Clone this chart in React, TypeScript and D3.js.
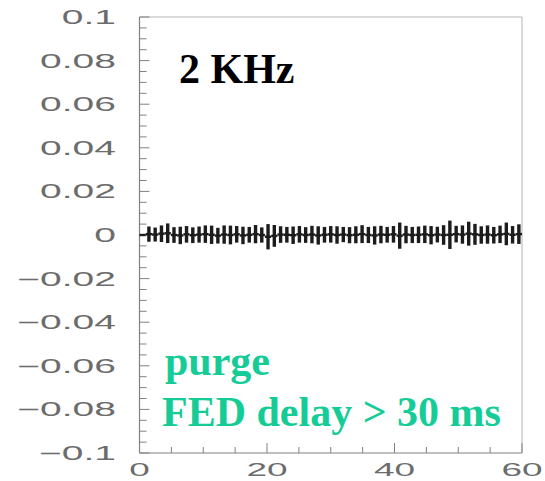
import React from "react";
import * as d3 from "d3";

// Histogram contents: bin 0 is empty, then one value per bin with its error
const binCount = 61;
const xDomain = [0, 60];
const yDomain = [-0.1, 0.1];

const binValues = [
  0, 0.0004, 0.0002, 0.0006, 0.0008, 0.0, -0.0002, 0.0003, -0.0001, 0.0002,
  0.0004, 0.0001, -0.0003, 0.0002, 0.0, 0.0003, -0.0002, 0.0001, 0.0004, 0.0,
  -0.0008, -0.0004, 0.0002, 0.0001, -0.0001, 0.0003, 0.0, 0.0002, -0.0002, 0.0001,
  0.0003, 0.0, 0.0002, -0.0001, 0.0001, 0.0004, 0.0, -0.0002, 0.0002, 0.0001,
  0.0003, -0.0003, 0.0002, 0.0, 0.0001, 0.0003, -0.0001, 0.0002, 0.0, 0.0001,
  0.0004, 0.0002, 0.0006, 0.0003, 0.0, 0.0002, -0.0001, 0.0003, 0.0005, 0.0001,
  0.0004,
];

const binErrors = [
  0, 0.0035, 0.0032, 0.0038, 0.0045, 0.0036, 0.004, 0.0038, 0.0036, 0.0037,
  0.004, 0.0042, 0.0036, 0.0042, 0.0043, 0.0038, 0.004, 0.0036, 0.0042, 0.0035,
  0.0058, 0.005, 0.0038, 0.0036, 0.004, 0.0038, 0.0036, 0.004, 0.0042, 0.0036,
  0.0038, 0.004, 0.0035, 0.0037, 0.0039, 0.0041, 0.0037, 0.0042, 0.004, 0.0036,
  0.0038, 0.006, 0.004, 0.0037, 0.0038, 0.004, 0.0042, 0.0036, 0.0045, 0.0065,
  0.0038, 0.0042, 0.0055, 0.0048, 0.004, 0.0042, 0.0038, 0.004, 0.0052, 0.004,
  0.0045,
];

const yTickValues = [0.1, 0.08, 0.06, 0.04, 0.02, 0, -0.02, -0.04, -0.06, -0.08, -0.1];
const yTickLabels = ["0.1", "0.08", "0.06", "0.04", "0.02", "0", "\u22120.02", "\u22120.04", "\u22120.06", "\u22120.08", "\u22120.1"];
const xTickValues = [0, 20, 40, 60];
const xTickLabels = ["0", "20", "40", "60"];

const rateLabel = "2 KHz";
const noteLines = ["purge", "FED delay > 30 ms"];

export default function App() {
  const W = 545;
  const H = 481;
  const left = 139.5;
  const right = 522;
  const top = 17;
  const bottom = 453;

  const x = d3.scaleLinear().domain(xDomain).range([left, right]);
  const y = d3.scaleLinear().domain(yDomain).range([bottom, top]);

  const binWidth = (xDomain[1] - xDomain[0]) / binCount;
  const bins = binValues.map((v, i) => ({
    lo: xDomain[0] + i * binWidth,
    hi: xDomain[0] + (i + 1) * binWidth,
    mid: xDomain[0] + (i + 0.5) * binWidth,
    v,
    e: binErrors[i],
  }));

  const yMinor = d3.range(-0.1, 0.1001, 0.005);
  const xMinor = d3.range(0, 60.001, 5);

  const axisColor = "#808080";
  const labelColor = "#6c6c6c";
  const teal = "#16cc96";

  return (
    <svg
      width={W}
      height={H}
      style={{ position: "absolute", left: 0, top: 0, background: "#fff" }}
    >
      <defs>
        <filter id="soft" x="-20%" y="-50%" width="140%" height="200%">
          <feGaussianBlur stdDeviation="0.5" />
        </filter>
      </defs>

      {/* frame */}
      <line x1={left} x2={right} y1={top} y2={top} stroke="#b5b5b5" strokeWidth={1} />
      <line x1={right} x2={right} y1={top} y2={bottom} stroke="#b5b5b5" strokeWidth={1} />
      <line x1={left} x2={left} y1={top} y2={bottom} stroke={axisColor} strokeWidth={1.2} />
      <line x1={left} x2={right} y1={bottom} y2={bottom} stroke={axisColor} strokeWidth={1.2} />

      {/* y ticks */}
      {yMinor.map((t, i) => {
        const major = i % 4 === 0;
        return (
          <line
            key={"ym" + i}
            x1={left}
            x2={left + (major ? 10 : 7)}
            y1={y(t)}
            y2={y(t)}
            stroke={axisColor}
            strokeWidth={1}
          />
        );
      })}
      {/* x ticks */}
      {xMinor.map((t, i) => {
        const major = t % 20 === 0;
        return (
          <line
            key={"xm" + i}
            x1={x(t)}
            x2={x(t)}
            y1={bottom}
            y2={bottom - (major ? 10 : 6)}
            stroke={axisColor}
            strokeWidth={1}
          />
        );
      })}

      {/* y tick labels */}
      {yTickValues.map((t, i) => (
        <text
          key={"yl" + i}
          transform={`translate(116,${y(t) + 7}) scale(2,1)`}
          textAnchor="end"
          fontFamily="'Liberation Sans', Arial, sans-serif"
          fontSize={19.5}
          fill={labelColor}
        >
          {yTickLabels[i]}
        </text>
      ))}
      {/* x tick labels */}
      {xTickValues.map((t, i) => (
        <text
          key={"xl" + i}
          transform={`translate(${x(t)},476) scale(2,1)`}
          textAnchor="middle"
          fontFamily="'Liberation Sans', Arial, sans-serif"
          fontSize={18.5}
          fill={labelColor}
        >
          {xTickLabels[i]}
        </text>
      ))}

      {/* histogram with error bars */}
      <g stroke="#1a1a1a" strokeLinecap="butt" filter="url(#soft)">
        {bins.map((b, i) => (
          <line
            key={"h" + i}
            x1={x(b.lo)}
            x2={x(b.hi)}
            y1={y(b.v)}
            y2={y(b.v)}
            strokeWidth={2.4}
          />
        ))}
        {bins
          .filter((b) => b.e > 0)
          .map((b, i) => (
            <line
              key={"e" + i}
              x1={x(b.mid)}
              x2={x(b.mid)}
              y1={y(b.v - b.e)}
              y2={y(b.v + b.e)}
              strokeWidth={3.4}
            />
          ))}
      </g>

      {/* annotations */}
      <text
        x={179}
        y={83}
        fontFamily="'Liberation Serif', 'Times New Roman', serif"
        fontWeight="bold"
        fontSize={42}
        fill="#000"
      >
        {rateLabel}
      </text>
      <text
        x={165}
        y={375}
        fontFamily="'Liberation Serif', 'Times New Roman', serif"
        fontWeight="bold"
        fontSize={42}
        fill={teal}
      >
        {noteLines[0]}
      </text>
      <text
        x={162}
        y={426}
        fontFamily="'Liberation Serif', 'Times New Roman', serif"
        fontWeight="bold"
        fontSize={42}
        fill={teal}
      >
        {noteLines[1]}
      </text>
    </svg>
  );
}
